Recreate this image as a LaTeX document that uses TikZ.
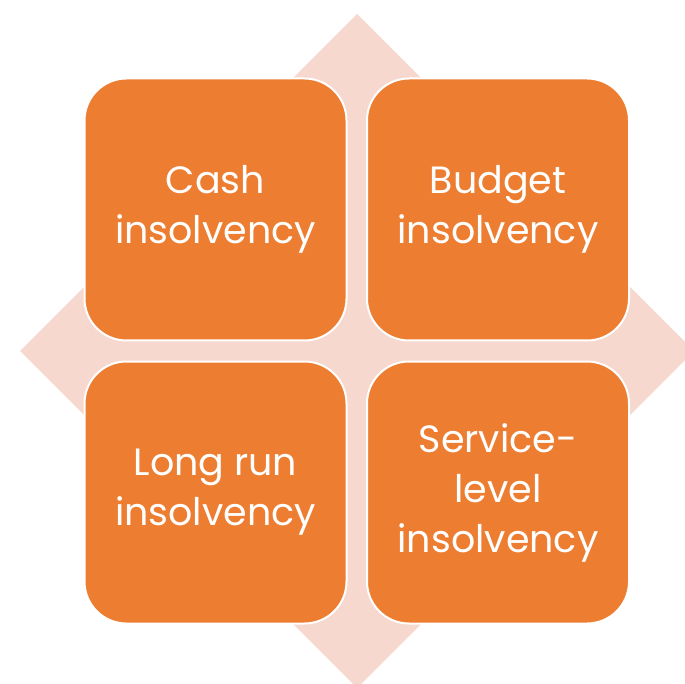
\documentclass[tikz,border=0pt]{standalone}
\usepackage{fontspec}
\setmainfont{Poppins}
\definecolor{tileorange}{HTML}{ED7D31}
\definecolor{diamondpink}{HTML}{F6D8CE}
\begin{document}
\begin{tikzpicture}[x=1pt,y=-1pt,
  tile/.style={draw=white, line width=2pt, fill=tileorange, rounded corners=42pt,
    minimum width=262pt, minimum height=262pt, inner sep=0pt,
    text=white, align=center, font=\fontsize{38}{50}\selectfont}]
  \useasboundingbox (0,0) rectangle (685,684);
  \begin{scope}
    \clip (0,0) rectangle (685,684);
    \fill[diamondpink] (357,14) -- (694,351) -- (357,688) -- (20,351) -- cycle;
  \end{scope}
  \node[tile] (cash) at (215.5,209.5) {Cash\\insolvency};
  \node[tile] (budget) at (498,209.5) {Budget\\insolvency};
  \node[tile] (longrun) at (215.5,492.5) {Long run\\insolvency};
  \node[tile] (service) at (498,492.5) {Service-\\level\\insolvency};
\end{tikzpicture}
\end{document}
